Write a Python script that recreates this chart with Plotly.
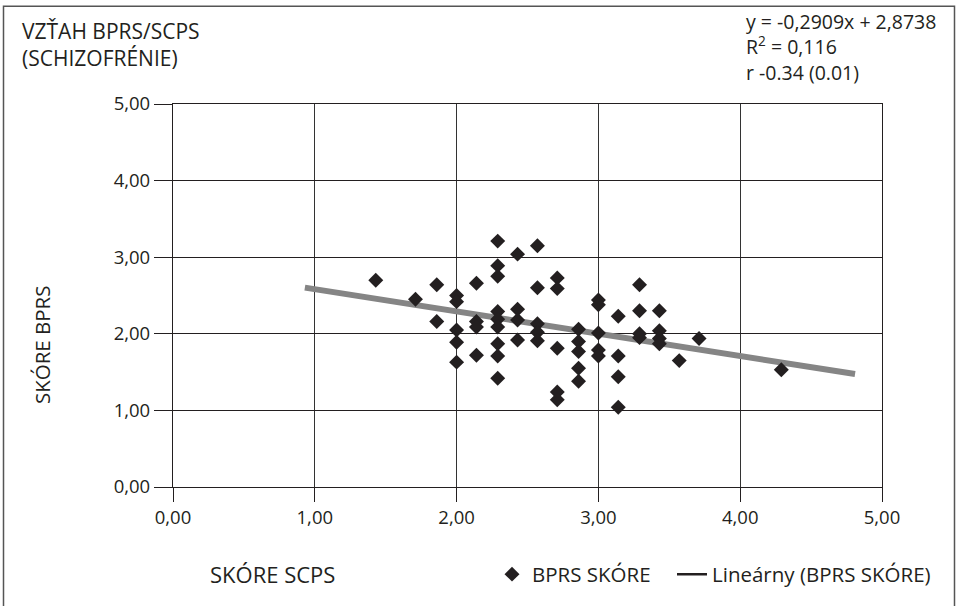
import plotly.graph_objects as go

# Data
scps = [1.43, 1.71, 1.86, 1.86,
        2.00, 2.00, 2.00, 2.00, 2.00,
        2.14, 2.14, 2.14, 2.14,
        2.29, 2.29, 2.29, 2.29, 2.29, 2.29, 2.29, 2.29, 2.29,
        2.43, 2.43, 2.43, 2.43,
        2.57, 2.57, 2.57, 2.57, 2.57,
        2.71, 2.71, 2.71, 2.71, 2.71,
        2.86, 2.86, 2.86, 2.86, 2.86,
        3.00, 3.00, 3.00, 3.00, 3.00,
        3.14, 3.14, 3.14, 3.14,
        3.29, 3.29, 3.29, 3.29,
        3.43, 3.43, 3.43, 3.43,
        3.57, 3.71, 4.29]
bprs = [2.70, 2.45, 2.64, 2.16,
        2.50, 2.42, 2.05, 1.89, 1.63,
        2.66, 2.16, 2.09, 1.72,
        3.21, 2.89, 2.75, 2.29, 2.19, 2.09, 1.87, 1.71, 1.42,
        3.04, 2.32, 2.18, 1.92,
        3.15, 2.60, 2.13, 2.02, 1.91,
        2.73, 2.59, 1.81, 1.24, 1.14,
        2.06, 1.90, 1.77, 1.55, 1.38,
        2.44, 2.38, 2.01, 1.79, 1.71,
        2.23, 1.71, 1.44, 1.04,
        2.64, 2.30, 2.00, 1.95,
        2.30, 2.04, 1.94, 1.87,
        1.65, 1.94, 1.53]

slope = -0.2909
intercept = 2.8738
trend_x = [0.93, 4.81]
trend_y = [slope * v + intercept for v in trend_x]

tick_vals = [0, 1, 2, 3, 4, 5]
tick_text = ["0,00", "1,00", "2,00", "3,00", "4,00", "5,00"]

title_text = "VZŤAH BPRS/SCPS<br>(SCHIZOFRÉNIE)"
eq_text = "y = -0,2909x + 2,8738<br>R<sup>2</sup> = 0,116<br>r -0.34 (0.01)"
x_title = "SKÓRE SCPS"
y_title = "SKÓRE BPRS"
series_name = "BPRS SKÓRE"
trend_name = "Lineárny (BPRS SKÓRE)"

TXT = "#231f20"
FONT = "Open Sans"

fig = go.Figure()
fig.add_trace(go.Scatter(
    x=trend_x, y=trend_y, mode="lines",
    line=dict(color="#858585", width=6),
    showlegend=False, hoverinfo="skip"))
fig.add_trace(go.Scatter(
    x=scps, y=bprs, mode="markers", name=series_name, legend="legend",
    marker=dict(symbol="diamond", size=11.5, color="#231f20",
                line=dict(width=0))))
fig.add_trace(go.Scatter(
    x=[None], y=[None], mode="lines", name=trend_name, legend="legend2",
    line=dict(color="#231f20", width=2.5)))

W, H = 959, 606
L, R, T, B = 173, 882, 104, 490


def px(xp):
    return (xp - L) / (R - L)


def py(yp):
    return (B - yp) / (B - T)


leg_common = dict(orientation="h", yanchor="middle", xanchor="left",
                  font=dict(size=20.5, family=FONT, color=TXT),
                  itemwidth=30, bgcolor="rgba(0,0,0,0)")

fig.update_layout(
    width=W, height=H,
    margin=dict(l=L, r=W - R, t=T, b=H - B),
    paper_bgcolor="white", plot_bgcolor="white",
    font=dict(family=FONT, color=TXT, size=18.5),
    showlegend=True,
    legend=dict(x=px(492), y=py(578), **leg_common),
    legend2=dict(x=px(672), y=py(578), **leg_common),
    xaxis=dict(range=[0, 5], tickvals=tick_vals, ticktext=tick_text,
               showgrid=True, gridcolor="#333333", gridwidth=1,
               showline=True, linecolor="#231f20", linewidth=1.2, mirror=True,
               ticks="outside", ticklen=14, tickcolor="#231f20", tickwidth=1,
               tickfont=dict(size=18.5), zeroline=False, fixedrange=True),
    yaxis=dict(range=[0, 5], tickvals=tick_vals, ticktext=tick_text,
               showgrid=True, gridcolor="#231f20", gridwidth=1,
               showline=True, linecolor="#231f20", linewidth=1.2, mirror=True,
               ticks="outside", ticklen=18, tickcolor="#231f20", tickwidth=1,
               tickfont=dict(size=18.5), zeroline=False, fixedrange=True),
    annotations=[
        dict(text=title_text, xref="paper", yref="paper", x=px(20), y=py(14),
             xanchor="left", yanchor="top", align="left", showarrow=False,
             font=dict(size=21, family=FONT, color=TXT)),
        dict(text=eq_text, xref="paper", yref="paper", x=px(744), y=py(5),
             xanchor="left", yanchor="top", align="left", showarrow=False,
             font=dict(size=19.5, family=FONT, color=TXT)),
        dict(text=x_title, xref="paper", yref="paper", x=px(272), y=py(578),
             xanchor="center", yanchor="middle", showarrow=False,
             font=dict(size=22, family=FONT, color=TXT)),
        dict(text=y_title, xref="paper", yref="paper", x=px(42), y=py(347),
             xanchor="center", yanchor="middle", showarrow=False, textangle=-90,
             font=dict(size=20.5, family=FONT, color=TXT)),
    ],
    shapes=[
        dict(type="rect", xref="paper", yref="paper",
             x0=px(3.5), x1=px(954.5), y0=py(612), y1=py(5.5),
             line=dict(color="#555555", width=1.5), layer="below"),
    ],
)

fig.write_html("out.html")
